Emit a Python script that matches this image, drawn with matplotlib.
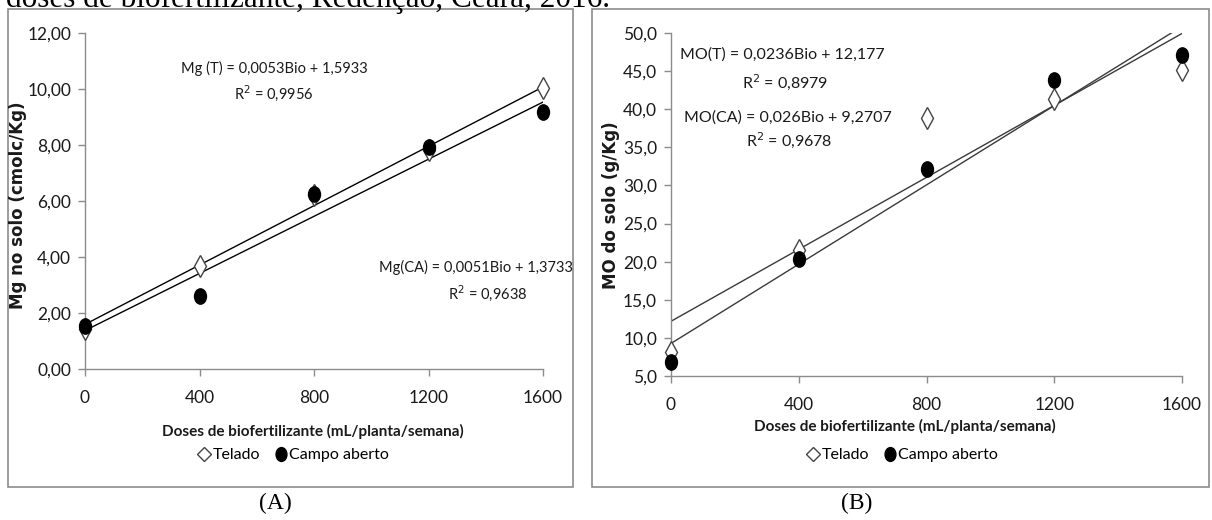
import numpy as np
import matplotlib
matplotlib.use('Agg')
import matplotlib.pyplot as plt
from matplotlib.lines import Line2D
from matplotlib.markers import MarkerStyle
from matplotlib.patches import Rectangle
from matplotlib.ticker import FuncFormatter
from matplotlib.transforms import Affine2D

# fonte parecida com Calibri
plt.rcParams['font.family'] = ['Lato', 'DejaVu Sans']

W, H = 1212, 520

# dados
doses = [0, 400, 800, 1200, 1600]

mg_telado = [1.42, 3.68, 6.20, 7.82, 10.03]
mg_campo = [1.55, 2.62, 6.25, 7.93, 9.18]
mg_coef_t = [0.0053, 1.5933]
mg_coef_ca = [0.0051, 1.3733]

mo_telado = [8.2, 21.5, 38.9, 41.3, 45.2]
mo_campo = [6.9, 20.3, 32.2, 43.8, 47.1]
mo_coef_t = [0.0236, 12.177]
mo_coef_ca = [0.026, 9.2707]

x_ticks = [0, 400, 800, 1200, 1600]
mg_yticks = [0, 2, 4, 6, 8, 10, 12]
mo_yticks = [5, 10, 15, 20, 25, 30, 35, 40, 45, 50]

gray = '#8c8c8c'
txt = '#1a1a1a'


def px(x, y):
    # pixel (a partir do topo) -> fração da figura
    return x / W, 1 - y / H


def fbox(x0, y0, x1, y1):
    return [x0 / W, 1 - y1 / H, (x1 - x0) / W, (y1 - y0) / H]


fig = plt.figure(figsize=(W / 100, H / 100), dpi=100)

# molduras dos painéis
for b in [fbox(8, 9, 573, 487), fbox(592, 9, 1209, 487)]:
    fig.patches.append(Rectangle((b[0], b[1]), b[2], b[3], transform=fig.transFigure,
                                 fill=False, edgecolor=gray, linewidth=1.2))

ell = MarkerStyle('o', transform=Affine2D().scale(0.78, 1.0))


def painel(ax, telado, campo, coef_t, coef_ca, yticks, fmt, line_color):
    xl = np.array([x_ticks[0], x_ticks[-1]])
    ax.plot(xl, np.polyval(coef_t, xl), color=line_color, lw=1.0, zorder=2)
    ax.plot(xl, np.polyval(coef_ca, xl), color=line_color, lw=1.0, zorder=2)
    ax.plot(doses, telado, linestyle='none', marker='d', ms=11, mfc='white',
            mec='#444444', mew=1.0, zorder=3, clip_on=False)
    ax.plot(doses, campo, linestyle='none', marker=ell, ms=11, mfc='black',
            mec='black', zorder=4, clip_on=False)
    ax.set_xlim(x_ticks[0], x_ticks[-1])
    ax.set_ylim(yticks[0], yticks[-1])
    ax.set_xticks(x_ticks)
    ax.set_yticks(yticks)
    ax.yaxis.set_major_formatter(FuncFormatter(lambda v, p: fmt.format(v).replace('.', ',')))
    for s in ['top', 'right']:
        ax.spines[s].set_visible(False)
    for s in ['left', 'bottom']:
        ax.spines[s].set_color(gray)
        ax.spines[s].set_linewidth(1.0)
    ax.tick_params(direction='out', length=5, width=1, color=gray, labelsize=12.5,
                   labelcolor=txt)
    ax.tick_params(axis='x', pad=10)
    ax.tick_params(axis='y', pad=5)
    ax.patch.set_alpha(0)


axA = fig.add_axes(fbox(85, 33, 543, 369))
painel(axA, mg_telado, mg_campo, mg_coef_t, mg_coef_ca, mg_yticks, '{:.2f}', 'black')

axB = fig.add_axes(fbox(671, 33, 1182, 376))
painel(axB, mo_telado, mo_campo, mo_coef_t, mo_coef_ca, mo_yticks, '{:.1f}', '#3a3a3a')

# rótulos dos eixos
fig.text(*px(18, 205), 'Mg no solo (cmolc/Kg)', rotation=90, ha='center', va='center',
         family='DejaVu Sans', fontweight='bold', fontsize=12, color=txt)
fig.text(*px(611, 205), 'MO do solo (g/Kg)', rotation=90, ha='center', va='center',
         family='DejaVu Sans', fontweight='bold', fontsize=12, color=txt)
fig.text(*px(313, 431), 'Doses de biofertilizante (mL/planta/semana)', ha='center',
         va='center', fontweight='bold', fontsize=11, color=txt)
fig.text(*px(905, 426), 'Doses de biofertilizante (mL/planta/semana)', ha='center',
         va='center', fontweight='bold', fontsize=11, color=txt)

# equações
fig.text(*px(274, 68), 'Mg (T) = 0,0053Bio + 1,5933', ha='center', va='center', fontsize=10.5, color=txt)
fig.text(*px(274, 93), 'R$^2$ = 0,9956', ha='center', va='center', fontsize=10.5, color=txt)
fig.text(*px(476, 267), 'Mg(CA) = 0,0051Bio + 1,3733', ha='center', va='center', fontsize=10.5, color=txt)
fig.text(*px(488, 293), 'R$^2$ = 0,9638', ha='center', va='center', fontsize=10.5, color=txt)

fig.text(*px(782, 55), 'MO(T) = 0,0236Bio + 12,177', ha='center', va='center', fontsize=11.5, color=txt)
fig.text(*px(785, 82), 'R$^2$ = 0,8979', ha='center', va='center', fontsize=11.5, color=txt)
fig.text(*px(788, 118), 'MO(CA) = 0,026Bio + 9,2707', ha='center', va='center', fontsize=11.5, color=txt)
fig.text(*px(789, 140), 'R$^2$ = 0,9678', ha='center', va='center', fontsize=11.5, color=txt)

# legendas
handles = [Line2D([], [], linestyle='none', marker='D', ms=7, mfc='white', mec='#444444', mew=1.0),
           Line2D([], [], linestyle='none', marker=ell, ms=10, mfc='black', mec='black')]
labels = ['Telado', 'Campo aberto']
for cx in [294, 903]:
    fig.legend(handles, labels, loc='center', bbox_to_anchor=px(cx, 455), ncol=2,
               frameon=False, fontsize=11.5, handlelength=0.6, handletextpad=0.2,
               columnspacing=1.0, borderpad=0)

# legenda da figura (cortada no topo)
fig.text(*px(6, 7), 'doses de biofertilizante, Redenção, Ceará, 2016.', ha='left',
         va='baseline', family='Liberation Serif', fontsize=22.5, color='black')
fig.text(*px(275, 503), '(A)', ha='center', va='center', family='Liberation Serif',
         fontsize=17, color='black')
fig.text(*px(857, 503), '(B)', ha='center', va='center', family='Liberation Serif',
         fontsize=17, color='black')

fig.savefig('out.png', dpi=100)
